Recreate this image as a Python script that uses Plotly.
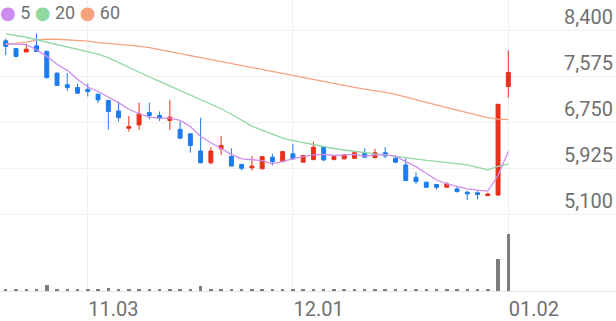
import plotly.graph_objects as go

dates = [
    "2025-10-22", "2025-10-23", "2025-10-24", "2025-10-27", "2025-10-28", "2025-10-29", "2025-10-30", "2025-10-31",
    "2025-11-03", "2025-11-04", "2025-11-05", "2025-11-06", "2025-11-07", "2025-11-10", "2025-11-11", "2025-11-12",
    "2025-11-13", "2025-11-14", "2025-11-17", "2025-11-18", "2025-11-19", "2025-11-20", "2025-11-21", "2025-11-24",
    "2025-11-25", "2025-11-26", "2025-11-27", "2025-11-28",
    "2025-12-01", "2025-12-02", "2025-12-03", "2025-12-04", "2025-12-05", "2025-12-08", "2025-12-09", "2025-12-10",
    "2025-12-11", "2025-12-12", "2025-12-15", "2025-12-16", "2025-12-17", "2025-12-18", "2025-12-19", "2025-12-22",
    "2025-12-23", "2025-12-24", "2025-12-26", "2025-12-29", "2025-12-30",
    "2026-01-02",
]

opens = [8220, 8080, 8020, 8130, 8030, 7640, 7430, 7380, 7350, 7260,
         7150, 6960, 6650, 6710, 6930, 6880, 6790, 6630, 6550, 6240,
         6030, 6280, 6140, 6000, 5940, 5920, 6130, 6050, 6190, 6040,
         6090, 6310, 6090, 6100, 6110, 6200, 6120, 6210, 6110, 5990,
         5770, 5680, 5640, 5590, 5560, 5500, 5490, 5440, 5450, 7400]
highs = [8260, 8090, 8170, 8350, 8040, 7650, 7640, 7450, 7450, 7270,
         7150, 7130, 6870, 7110, 7110, 6950, 7160, 6770, 6550, 6840,
         6310, 6510, 6290, 6010, 6150, 6150, 6190, 6240, 6370, 6160,
         6410, 6310, 6160, 6190, 6210, 6290, 6280, 6310, 6150, 6110,
         5860, 5690, 5640, 5680, 5600, 5530, 5520, 5490, 7080, 8050]
lows = [7960, 7920, 8010, 8020, 7540, 7410, 7320, 7270, 7220, 7100,
        6620, 6770, 6590, 6620, 6810, 6780, 6620, 6470, 6210, 6020,
        6000, 6170, 5970, 5890, 5890, 5920, 5980, 6040, 6090, 6040,
        6070, 6060, 6070, 6090, 6100, 6110, 6110, 6110, 6030, 5710,
        5650, 5580, 5550, 5590, 5500, 5360, 5370, 5430, 5440, 7200]
closes = [8120, 7940, 8070, 8030, 7560, 7420, 7380, 7280, 7310, 7160,
          6950, 6840, 6680, 6910, 6880, 6830, 6850, 6470, 6340, 6030,
          6240, 6340, 5970, 5930, 5970, 6140, 6050, 6230, 6100, 6160,
          6310, 6080, 6140, 6170, 6210, 6130, 6210, 6150, 6040, 5710,
          5690, 5590, 5590, 5650, 5510, 5470, 5460, 5470, 7080, 7650]

ma5 = [8170, 8160, 8150, 8060, 7940, 7800, 7690, 7530, 7390, 7310,
       7210, 7110, 6990, 6910, 6850, 6830, 6830, 6790, 6680, 6500,
       6390, 6280, 6180, 6100, 6090, 6070, 6010, 6060, 6100, 6140,
       6170, 6180, 6160, 6170, 6180, 6150, 6170, 6170, 6150, 6050,
       5960, 5840, 5720, 5650, 5610, 5560, 5540, 5520, 5800, 6230]
ma20 = [8346, 8320, 8284, 8239, 8195, 8150, 8115, 8070, 8031, 7981,
        7918, 7829, 7740, 7651, 7570, 7490, 7406, 7321, 7240, 7160,
        7080, 7000, 6901, 6794, 6687, 6616, 6545, 6473, 6429, 6393,
        6348, 6313, 6286, 6259, 6232, 6206, 6188, 6170, 6143, 6125,
        6099, 6072, 6054, 6036, 6018, 5992, 5947, 5902, 5965, 6009]
ma60 = [8150, 8168, 8198, 8231, 8252, 8248, 8239, 8231, 8216, 8186,
        8172, 8159, 8141, 8123, 8097, 8061, 8025, 7990, 7954, 7913,
        7874, 7838, 7802, 7767, 7731, 7695, 7660, 7624, 7588, 7553,
        7517, 7481, 7446, 7410, 7383, 7353, 7330, 7294, 7258, 7208,
        7160, 7116, 7067, 7021, 6973, 6928, 6884, 6839, 6812, 6803]

volumes = [24, 24, 20, 26, 110, 30, 24, 20, 26, 30,
           46, 26, 16, 24, 20, 14, 20, 20, 24, 100,
           24, 16, 16, 14, 14, 12, 12, 12, 14, 20,
           16, 12, 12, 12, 12, 12, 12, 12, 16, 30,
           18, 16, 12, 14, 14, 12, 16, 12, 640, 1140]

price_ticks = [5100, 5925, 6750, 7575, 8400]
x_tickvals = ["2025-11-03", "2025-12-01", "2026-01-02"]
x_ticktext = ["11.03", "12.01", "01.02"]

ma_names = ["5", "20", "60"]
ma_colors = ["#cd8def", "#8fd8a2", "#f6a27f"]
UP = "#e8301a"
DOWN = "#1a7cf0"
GRID = "#f0f0f0"
TXT = "#707070"
FONT = "Roboto"

fig = go.Figure()

for vals, color, name in zip([ma60, ma20, ma5], ma_colors[::-1], ma_names[::-1]):
    fig.add_trace(go.Scatter(x=dates, y=vals, mode="lines", name=name,
                             line=dict(color=color, width=1.3),
                             xaxis="x", yaxis="y", hoverinfo="skip"))

fig.add_trace(go.Candlestick(
    x=dates, open=opens, high=highs, low=lows, close=closes,
    increasing=dict(line=dict(color=UP, width=1), fillcolor=UP),
    decreasing=dict(line=dict(color=DOWN, width=1), fillcolor=DOWN),
    whiskerwidth=0, xaxis="x", yaxis="y", name="price"))

fig.add_trace(go.Bar(x=dates, y=volumes, marker=dict(color="#7d7d7d", line=dict(width=0)),
                     width=0.34, xaxis="x", yaxis="y2", name="vol"))

H = 293
price_bottom_px = 222
split = (H - price_bottom_px) / H
ppp = 3300 / 185.0
y_top = 8400 + 31 * ppp
y_bot = 5100 - (price_bottom_px - 216) * ppp
vol_max = volumes[-1] * (H - price_bottom_px) / 57.0

legend_html = "".join(
    f"<span style='color:{c};font-size:18px;font-family:DejaVu Sans'>●</span> {n}&nbsp;"
    for c, n in zip(ma_colors, ma_names))

fig.update_layout(
    width=616, height=321,
    margin=dict(l=0, r=0, t=0, b=321 - H),
    paper_bgcolor="white", plot_bgcolor="white",
    showlegend=False,
    boxgap=0.45,
    bargap=0,
    font=dict(family=FONT, color=TXT),
    xaxis=dict(type="category", range=[-0.56, 59.5], anchor="y2",
               tickvals=x_tickvals, ticktext=x_ticktext,
               ticklabelposition="outside right",
               tickfont=dict(size=20, color=TXT, family=FONT),
               showgrid=True, gridcolor=GRID, gridwidth=1,
               showline=True, linecolor="#e4e4e4", linewidth=1,
               ticks="", zeroline=False,
               rangeslider=dict(visible=False), fixedrange=True),
    yaxis=dict(domain=[split, 1], range=[y_bot, y_top], side="right", anchor="x",
               tickvals=price_ticks, tickformat=",",
               ticklabelposition="inside top",
               tickfont=dict(size=20, color=TXT, family=FONT),
               showgrid=True, gridcolor=GRID, gridwidth=1,
               zeroline=False, showline=False, ticks=""),
    yaxis2=dict(domain=[0, split], range=[0, vol_max], anchor="x",
                showgrid=False, showticklabels=False, zeroline=False, showline=False),
    annotations=[dict(text=legend_html, x=0, y=1, xref="paper", yref="paper",
                      xanchor="left", yanchor="top", showarrow=False,
                      xshift=-2, yshift=0,
                      font=dict(size=18, color=TXT, family=FONT))],
)

fig.write_html("out.html")
